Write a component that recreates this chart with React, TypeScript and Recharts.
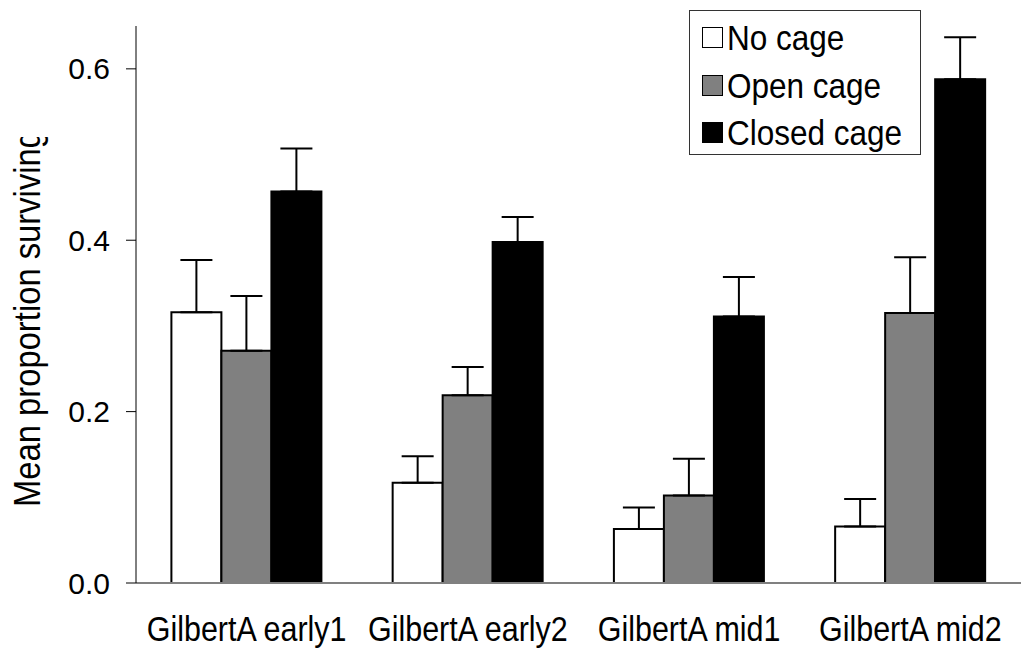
import React from "react";
import { BarChart, Bar, XAxis, YAxis, ErrorBar, Legend } from "recharts";

const categories = ["GilbertA early1", "GilbertA early2", "GilbertA mid1", "GilbertA mid2"];
const noCage = [0.316, 0.117, 0.063, 0.066];
const noCageErr = [0.061, 0.031, 0.025, 0.032];
const openCage = [0.271, 0.219, 0.102, 0.315];
const openCageErr = [0.064, 0.033, 0.043, 0.065];
const closedCage = [0.457, 0.398, 0.311, 0.588];
const closedCageErr = [0.05, 0.029, 0.046, 0.049];

const seriesNames = ["No cage", "Open cage", "Closed cage"];
const seriesColors = ["#ffffff", "#808080", "#000000"];
const yTicks = [0, 0.2, 0.4, 0.6];
const boundaryTicks = [0, 1, 2, 3, 4];

const FONT = '"Liberation Sans", Arial, sans-serif';

// error bars only go upward, so the lower part is 0
const data = categories.map((name, i) => ({
  name,
  noCage: noCage[i],
  noCageErr: [0, noCageErr[i]],
  openCage: openCage[i],
  openCageErr: [0, openCageErr[i]],
  closedCage: closedCage[i],
  closedCageErr: [0, closedCageErr[i]],
}));

const CategoryTick = ({ x, y, payload }: any) => (
  <text
    transform={`translate(${x},${y}) scale(0.87,1)`}
    textAnchor="middle"
    dy="0.716em"
    fontSize={35}
    fontFamily={FONT}
    fill="#000"
  >
    {payload.value}
  </text>
);

const YTitle = ({ viewBox }: any) => {
  const cx = viewBox.x + 40;
  const cy = viewBox.y + viewBox.height / 2 + 14;
  return (
    <g>
      <defs>
        <clipPath id="ytitle-clip">
          <rect x={0} y={137} width={136} height={500} />
        </clipPath>
      </defs>
      {/* the reference cuts the last letter at the top */}
      <g clipPath="url(#ytitle-clip)">
        <text
          transform={`translate(${cx},${cy}) rotate(-90) scale(0.886,1)`}
          textAnchor="middle"
          fontSize={37}
          fontFamily={FONT}
          fill="#000"
        >
          Mean proportion surviving
        </text>
      </g>
    </g>
  );
};

const LegendBox = ({ payload }: any) => {
  const items = [...(payload || [])].sort(
    (a: any, b: any) => seriesNames.indexOf(a.value) - seriesNames.indexOf(b.value)
  );
  return (
    <div
      style={{
        width: 232,
        height: 145,
        boxSizing: "border-box",
        border: "1px solid #333",
        background: "#fff",
        padding: "3px 0 0 12px",
        fontFamily: FONT,
      }}
    >
      {items.map((entry: any) => (
        <div key={entry.value} style={{ display: "flex", alignItems: "center", height: 47.5 }}>
          <span
            style={{
              width: 21,
              height: 21,
              boxSizing: "border-box",
              border: "1.5px solid #000",
              background: seriesColors[seriesNames.indexOf(entry.value)],
              marginRight: 4,
              flex: "none",
            }}
          />
          <span
            style={{
              fontSize: 35,
              lineHeight: "47.5px",
              color: "#000",
              transform: "scaleX(0.9)",
              transformOrigin: "left center",
              whiteSpace: "nowrap",
            }}
          >
            {entry.value}
          </span>
        </div>
      ))}
    </div>
  );
};

export default function App() {
  return (
    <div style={{ position: "absolute", top: 0, left: 0, width: 1021, height: 648, background: "#fff" }}>
      <BarChart
        width={1021}
        height={648}
        data={data}
        margin={{ top: 26, right: 0, left: 0, bottom: 0 }}
        barCategoryGap="16%"
        barGap={0}
      >
        <XAxis
          xAxisId="bounds"
          type="number"
          domain={[0, 4]}
          ticks={boundaryTicks}
          allowDataOverflow
          height={0}
          tick={false}
          tickSize={10}
          axisLine={false}
          tickLine={{ stroke: "#000", strokeWidth: 1 }}
        />
        <XAxis
          dataKey="name"
          height={65}
          tick={<CategoryTick />}
          tickLine={false}
          tickSize={0}
          tickMargin={33}
          axisLine={{ stroke: "#808080", strokeWidth: 2 }}
          interval={0}
        />
        <YAxis
          width={136}
          domain={[0, 0.65]}
          ticks={yTicks}
          allowDataOverflow
          tickFormatter={(v: number) => v.toFixed(1)}
          tickSize={10}
          tickMargin={16}
          tick={{ fontSize: 30, fill: "#000", fontFamily: FONT }}
          axisLine={{ stroke: "#000", strokeWidth: 1 }}
          tickLine={{ stroke: "#000", strokeWidth: 1 }}
          label={{ content: (props: any) => <YTitle {...props} /> }}
        />
        <Legend
          layout="vertical"
          align="center"
          verticalAlign="middle"
          wrapperStyle={{ top: 10, left: 689, width: 232 }}
          content={<LegendBox />}
        />
        <Bar dataKey="noCage" name={seriesNames[0]} fill={seriesColors[0]} stroke="#000" strokeWidth={2} isAnimationActive={false}>
          <ErrorBar dataKey="noCageErr" direction="y" width={16} stroke="#000" strokeWidth={2} />
        </Bar>
        <Bar dataKey="openCage" name={seriesNames[1]} fill={seriesColors[1]} stroke="#000" strokeWidth={2} isAnimationActive={false}>
          <ErrorBar dataKey="openCageErr" direction="y" width={16} stroke="#000" strokeWidth={2} />
        </Bar>
        <Bar dataKey="closedCage" name={seriesNames[2]} fill={seriesColors[2]} stroke="#000" strokeWidth={2} isAnimationActive={false}>
          <ErrorBar dataKey="closedCageErr" direction="y" width={16} stroke="#000" strokeWidth={2} />
        </Bar>
      </BarChart>
    </div>
  );
}
